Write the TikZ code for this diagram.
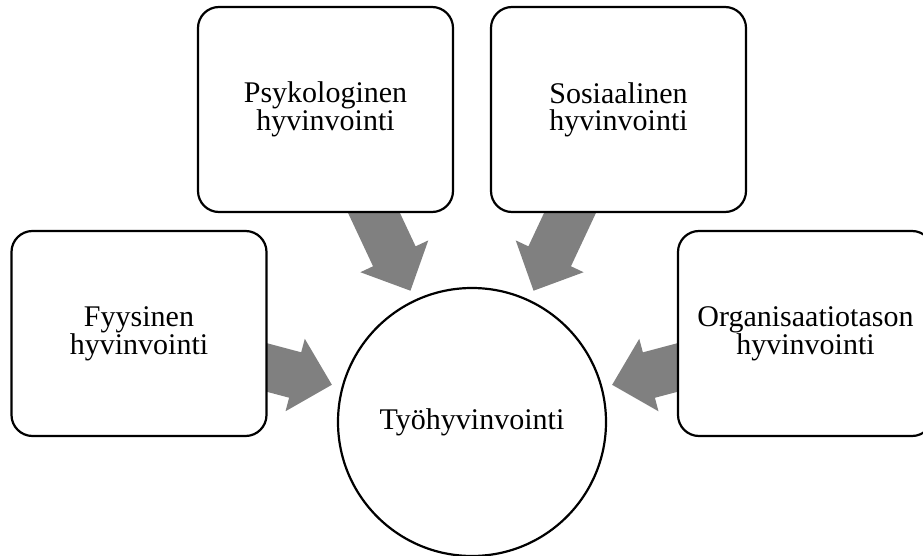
\documentclass[tikz,border=0pt]{standalone}
\usepackage{fontspec}
\setmainfont{Liberation Serif}
\usetikzlibrary{calc,backgrounds}

\tikzset{
  labeltext/.style={font=\fontsize{30}{27}\selectfont, align=center},
  card/.style={labeltext, rectangle, draw=black, line width=2.2pt, fill=white,
    rounded corners=21pt, minimum width=255pt, minimum height=205pt,
    inner sep=0pt, outer sep=0pt},
  hub/.style={labeltext, circle, draw=black, line width=2.2pt, fill=white,
    minimum size=268pt, inner sep=0pt, outer sep=0pt},
  flow/.style={fill=gray, draw=none}
}

% Block arrow from the centre of card #1 towards hub #2, tip stopping short of the hub
\newcommand\flowarrow[2]{%
  \path ($(#2)!145pt!(#1)$) coordinate (tip)
        ($(tip)!38pt!(#1)$) coordinate (base);
  \fill[flow] (tip)
    -- ($(base)!37.5pt!90:(#1)$)
    -- ($(base)!23.5pt!90:(#1)$)
    -- ($(#1)!23.5pt!-90:(tip)$)
    -- ($(#1)!23.5pt!90:(tip)$)
    -- ($(base)!23.5pt!-90:(#1)$)
    -- ($(base)!37.5pt!-90:(#1)$)
    -- cycle;
}

\begin{document}
\begin{tikzpicture}[x=1pt, y=-1pt]
  \useasboundingbox (0,0) rectangle (923,556);
  \clip (0,0) rectangle (923,556);

  % outer well-being areas
  \node[card] (psy) at (325.5,109.5) {Psykologinen\\hyvinvointi};
  \node[card] (sos) at (618.5,109.5) {Sosiaalinen\\hyvinvointi};
  \node[card] (fyy) at (139,333.5)   {Fyysinen\\hyvinvointi};
  \node[card] (org) at (805.5,333.5) {Organisaatiotason\\hyvinvointi};

  % central concept
  \node[hub] (tyo) at (472,422) {Työhyvinvointi};

  % arrows pointing inwards, tucked under the cards
  \begin{scope}[on background layer]
    \flowarrow{psy}{tyo}
    \flowarrow{sos}{tyo}
    \flowarrow{fyy}{tyo}
    \flowarrow{org}{tyo}
  \end{scope}
\end{tikzpicture}
\end{document}
